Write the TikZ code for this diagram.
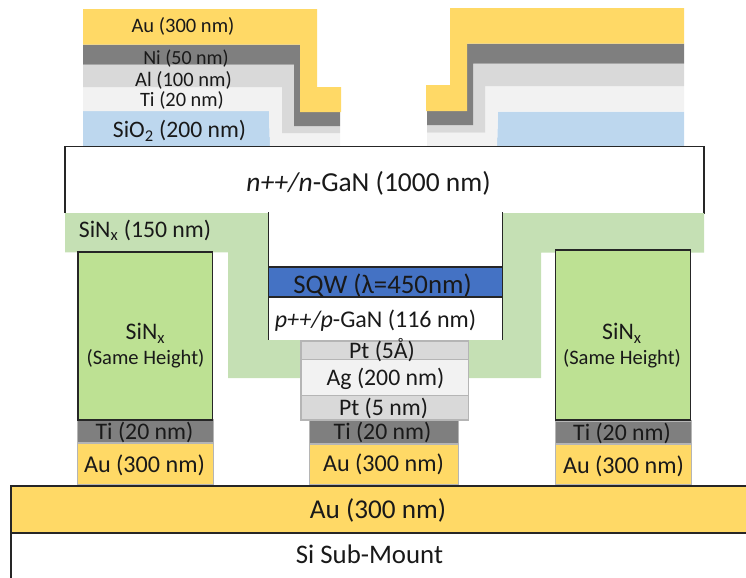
\documentclass[tikz,border=0pt]{standalone}
\usepackage{fontspec}
\setmainfont{Carlito}
\definecolor{cAu}{HTML}{FFD966}
\definecolor{cNi}{HTML}{7F7F7F}
\definecolor{cAl}{HTML}{D9D9D9}
\definecolor{cTi}{HTML}{F2F2F2}
\definecolor{cOx}{HTML}{BDD7EE}
\definecolor{cThin}{HTML}{C5E0B4}
\definecolor{cBlock}{HTML}{BDE193}
\definecolor{cSqw}{HTML}{4472C4}
\definecolor{cEdge}{HTML}{B5B5B5}
\tikzset{
  greybox/.style={fill=#1,draw=cEdge,line width=0.9pt},
  blackbox/.style={fill=#1,draw=black!85,line width=0.9pt},
  blackline/.style={draw=black!85,line width=0.9pt},
  lab/.style={inner sep=0pt,text=black!90,font=\fontsize{#1}{#1}\selectfont},
  lab/.default={17.8},
}
\begin{document}
\begin{tikzpicture}[x=0.75pt,y=-0.75pt]
\useasboundingbox (0,0) rectangle (746,578);
% left contact stack
\fill[cOx] (83,111) -- (269,111) -- (270,146) -- (83,146) -- cycle;
\fill[cTi] (83,87) -- (282,87) -- (282,133) -- (340,133) -- (340,146) -- (270,146) -- (269,111) -- (83,111) -- cycle;
\fill[cAl] (83,64.5) -- (294,64.5) -- (294,126) -- (340,126) -- (340,133) -- (282,133) -- (282,87) -- (83,87) -- cycle;
\fill[cNi] (83,44.5) -- (300,44.5) -- (300,112) -- (340,112) -- (340,126) -- (294,126) -- (294,64.5) -- (83,64.5) -- cycle;
\fill[cAu] (83,9) -- (317,9) -- (317,87) -- (341,87) -- (341,112) -- (300,112) -- (300,44.5) -- (83,44.5) -- cycle;
% right contact stack
\fill[cOx] (498,111.5) -- (684,111.5) -- (684,146) -- (497,146) -- cycle;
\fill[cTi] (485,86) -- (684,86) -- (684,111.5) -- (498,111.5) -- (497,146) -- (427,146) -- (427,132.5) -- (485,132.5) -- cycle;
\fill[cAl] (473,63.5) -- (684,63.5) -- (684,86) -- (485,86) -- (485,132.5) -- (427,132.5) -- (427,125) -- (473,125) -- cycle;
\fill[cNi] (467,43.7) -- (684,43.7) -- (684,63.5) -- (473,63.5) -- (473,125) -- (427,125) -- (427,111) -- (467,111) -- cycle;
\fill[cAu] (450,8) -- (684,8) -- (684,43.7) -- (467,43.7) -- (467,111) -- (426,111) -- (426,85) -- (450,85) -- cycle;
% n-GaN outline
\draw[blackline] (65,213) -- (65,146.7) -- (704,146.7) -- (704,214);
% thin SiNx
\fill[cThin] (65,213) -- (268.5,213) -- (268.5,340) -- (502,340) -- (502,213) -- (704,213) -- (704,252.5) -- (541,252.5) -- (541,378) -- (228,378) -- (228,252.3) -- (65,252.3) -- cycle;
\draw[blackline] (268.5,212) -- (268.5,340);
\draw[blackline] (502.5,212) -- (502.5,340);
\draw[blackbox=cSqw] (268.5,267) rectangle (502.5,297);
% mirror stack
\draw[greybox=cAl] (301,341) rectangle (468.5,359.5);
\draw[greybox=cTi] (301,359.5) rectangle (468.5,395.5);
\draw[greybox=cAl] (301,395.5) rectangle (468.5,420);
% pillars
\draw[greybox=cNi] (77.5,420) rectangle (213.5,443);
\draw[greybox=cAu] (77.5,443) rectangle (213.5,484.5);
\draw[greybox=cNi] (309.5,420.5) rectangle (458.5,444);
\draw[greybox=cAu] (309.5,444) rectangle (458.5,485);
\draw[greybox=cNi] (555.5,421) rectangle (691.5,444);
\draw[greybox=cAu] (555.5,444) rectangle (691.5,485);
\draw[blackbox=cBlock] (78,252) rectangle (212.5,420);
\draw[blackbox=cBlock] (555.5,250) rectangle (690.5,420);
% submount
\draw[blackbox=cAu] (11,486) rectangle (760,533);
\draw[blackline] (11,533) -- (11,590);
% labels
\node[lab=15.4] (tAuL) at (183,26) {Au (300 nm)};
\node[lab=15] (tNi) at (186,59) {Ni (50 nm)};
\node[lab=15.4] (tAl) at (183.5,80.5) {Al (100 nm)};
\node[lab=15.3] (tTi) at (182,100.5) {Ti (20 nm)};
\node[lab=17.7] (tOx) at (179.5,131) {SiO\textsubscript{2} (200 nm)};
\node[lab=20.6] (tN) at (368.5,183.5) {\textit{n++/n}-GaN (1000 nm)};
\node[lab] (tThin) at (145,230.5) {SiN\textsubscript{x} (150 nm)};
\node[lab=20.1] (tSqw) at (382.5,286) {SQW (λ=450nm)};
\node[lab=18] (tP) at (375.5,320.5) {\textit{p++/p}-GaN (116 nm)};
\node[lab] (tPt1) at (382,350) {Pt (5Å)};
\node[lab] (tAg) at (385.5,378.5) {Ag (200 nm)};
\node[lab] (tPt2) at (383.5,408.5) {Pt (5 nm)};
\node[lab] (tBlockLa) at (145.5,333.5) {SiN\textsubscript{x}};
\node[lab=15.4] (tBlockLb) at (145.5,359) {(Same Height)};
\node[lab] (tBlockRa) at (622,333.5) {SiN\textsubscript{x}};
\node[lab=15.4] (tBlockRb) at (622,359) {(Same Height)};
\node[lab] (tTi1) at (144.5,432.5) {Ti (20 nm)};
\node[lab=18.1] (tAu1) at (144.5,465) {Au (300 nm)};
\node[lab] (tTi2) at (382.5,432.5) {Ti (20 nm)};
\node[lab=18.1] (tAu2) at (383.5,464.5) {Au (300 nm)};
\node[lab] (tTi3) at (622,433.5) {Ti (20 nm)};
\node[lab=18.1] (tAu3) at (623.5,466) {Au (300 nm)};
\node[lab=20.4] (tAuB) at (378,510) {Au (300 nm)};
\node[lab=20.1] (tSi) at (369.5,554.5) {Si Sub-Mount};
\end{tikzpicture}
\end{document}
